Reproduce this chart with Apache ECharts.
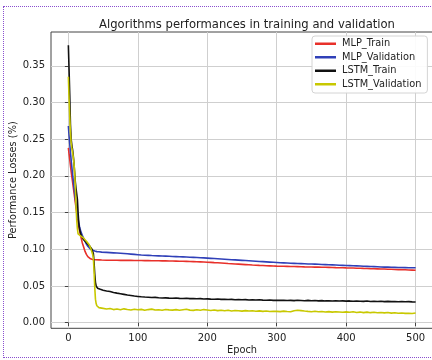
<!DOCTYPE html>
<html>
<head>
<meta charset="utf-8">
<script src="https://cdn.jsdelivr.net/npm/echarts@6/dist/echarts.min.js"></script>
<style>
  html, body { margin: 0; padding: 0; background: #fff; overflow: hidden; }
  #wrap { position: relative; width: 432px; height: 360px; overflow: hidden; }
  #chart { width: 432px; height: 360px; }
  /* dotted frame round the picture, open on the right */
  #frame {
    position: absolute; left: 3px; top: 6px; width: 600px; height: 350px;
    border: 1.5px dotted #8a4fcf; pointer-events: none;
  }
</style>
</head>
<body>
<div id="wrap">
  <div id="chart"></div>
  <div id="frame"></div>
</div>
<script>
// epochs sampled from the curves (dense during the early drop)
const epochs = [
  0, 1, 2, 3, 4, 5, 6, 7, 8, 9, 10, 11, 12, 13, 14, 15, 16, 18, 20, 22, 24, 26, 28, 30, 32, 34,
  35, 36, 37, 38, 39, 40, 41, 42, 44, 46, 48, 50,
  55, 60, 65, 70, 75, 80, 85, 90, 95, 100,
  105, 110, 115, 120, 125, 130, 135, 140, 145, 150,
  155, 160, 165, 170, 175, 180, 185, 190, 195, 200,
  205, 210, 215, 220, 225, 230, 235, 240, 245, 250,
  255, 260, 265, 270, 275, 280, 285, 290, 295, 300,
  305, 310, 315, 320, 325, 330, 335, 340, 345, 350,
  355, 360, 365, 370, 375, 380, 385, 390, 395, 400,
  405, 410, 415, 420, 425, 430, 435, 440, 445, 450,
  455, 460, 465, 470, 475, 480, 485, 490, 495, 500
]

const mlpTrain = [
  0.238, 0.230, 0.222, 0.214, 0.206, 0.199, 0.192, 0.185, 0.178, 0.171, 0.164, 0.157, 0.150, 0.143, 0.137, 0.131, 0.126,
  0.117, 0.109, 0.103, 0.097, 0.093, 0.090, 0.088, 0.087, 0.0863,
  0.0861, 0.0860, 0.0859, 0.0858, 0.0857, 0.0856, 0.0856, 0.0855, 0.0855, 0.0854, 0.0853, 0.0852,
  0.0851, 0.0851, 0.0850, 0.0850, 0.0849, 0.0849, 0.0848, 0.0848, 0.0847, 0.0846,
  0.0846, 0.0845, 0.0845, 0.0844, 0.0843, 0.0843, 0.0842, 0.0841, 0.0840, 0.0839,
  0.0838, 0.0837, 0.0836, 0.0835, 0.0833, 0.0832, 0.0830, 0.0828, 0.0826, 0.0823,
  0.0821, 0.0818, 0.0816, 0.0813, 0.0810, 0.0806, 0.0803, 0.0800, 0.0797, 0.0794,
  0.0791, 0.0788, 0.0785, 0.0783, 0.0780, 0.0778, 0.0776, 0.0774, 0.0772, 0.0770,
  0.0769, 0.0768, 0.0767, 0.0765, 0.0764, 0.0763, 0.0762, 0.0760, 0.0759, 0.0758,
  0.0757, 0.0756, 0.0755, 0.0754, 0.0753, 0.0752, 0.0750, 0.0749, 0.0748, 0.0746,
  0.0745, 0.0744, 0.0742, 0.0741, 0.0739, 0.0738, 0.0736, 0.0735, 0.0733, 0.0731,
  0.0730, 0.0728, 0.0727, 0.0725, 0.0723, 0.0722, 0.0720, 0.0718, 0.0716, 0.0714
]

const mlpValidation = [
  0.268, 0.255, 0.243, 0.232, 0.222, 0.212, 0.203, 0.194, 0.185, 0.177, 0.169, 0.161, 0.154, 0.147, 0.141, 0.136, 0.131,
  0.124, 0.119, 0.115, 0.111, 0.107, 0.104, 0.1015, 0.100, 0.099,
  0.0985, 0.098, 0.0977, 0.0975, 0.0972, 0.097, 0.0968, 0.0967, 0.0965, 0.0963, 0.0961, 0.096,
  0.0957, 0.0954, 0.0951, 0.0948, 0.0945, 0.0942, 0.0938, 0.0934, 0.0930, 0.0926,
  0.0922, 0.0919, 0.0917, 0.0914, 0.0912, 0.0910, 0.0908, 0.0906, 0.0904, 0.0902,
  0.0900, 0.0898, 0.0896, 0.0894, 0.0892, 0.0890, 0.0888, 0.0885, 0.0882, 0.0879,
  0.0876, 0.0873, 0.0870, 0.0867, 0.0864, 0.0861, 0.0858, 0.0855, 0.0852, 0.0849,
  0.0846, 0.0843, 0.0840, 0.0837, 0.0834, 0.0831, 0.0828, 0.0825, 0.0822, 0.0819,
  0.0816, 0.0814, 0.0812, 0.0810, 0.0808, 0.0806, 0.0804, 0.0802, 0.0800, 0.0799,
  0.0797, 0.0795, 0.0793, 0.0791, 0.0789, 0.0787, 0.0785, 0.0783, 0.0781, 0.0779,
  0.0777, 0.0775, 0.0773, 0.0771, 0.0769, 0.0767, 0.0765, 0.0763, 0.0761, 0.0759,
  0.0757, 0.0756, 0.0754, 0.0753, 0.0752, 0.0751, 0.0750, 0.0749, 0.0748, 0.0747
]

const lstmTrain = [
  0.378, 0.345, 0.310, 0.270, 0.250, 0.242, 0.236, 0.228, 0.218, 0.205, 0.192, 0.183, 0.181, 0.168, 0.150, 0.136, 0.128,
  0.120, 0.116, 0.113, 0.111, 0.109, 0.107, 0.105, 0.103, 0.100,
  0.098, 0.094, 0.082, 0.066, 0.055, 0.050, 0.048, 0.047, 0.046, 0.0455, 0.0448, 0.0442,
  0.0432, 0.0424, 0.0411, 0.0402, 0.0394, 0.0385, 0.0376, 0.0369, 0.0362, 0.0357,
  0.0352, 0.0349, 0.0347, 0.0342, 0.0344, 0.0339, 0.0336, 0.0338, 0.0334, 0.0332,
  0.0335, 0.0331, 0.0329, 0.0332, 0.0327, 0.0328, 0.0325, 0.0327, 0.0322, 0.0324,
  0.0321, 0.0319, 0.0323, 0.0317, 0.0318, 0.0315, 0.0317, 0.0313, 0.0316, 0.0312,
  0.0314, 0.0309, 0.0312, 0.0308, 0.0311, 0.0307, 0.0305, 0.0309, 0.0304, 0.0306,
  0.0303, 0.0306, 0.0301, 0.0304, 0.0300, 0.0305, 0.0302, 0.0299, 0.0303, 0.0298,
  0.0301, 0.0297, 0.0300, 0.0296, 0.0299, 0.0295, 0.0298, 0.0294, 0.0297, 0.0293,
  0.0296, 0.0292, 0.0295, 0.0291, 0.0290, 0.0294, 0.0289, 0.0292, 0.0288, 0.0291,
  0.0287, 0.0290, 0.0286, 0.0289, 0.0285, 0.0288, 0.0284, 0.0286, 0.0283, 0.0281
]

const lstmValidation = [
  0.335, 0.305, 0.280, 0.258, 0.245, 0.238, 0.232, 0.226, 0.218, 0.205, 0.185, 0.160, 0.140, 0.128, 0.121, 0.119, 0.121,
  0.118, 0.116, 0.115, 0.113, 0.111, 0.109, 0.106, 0.102, 0.096,
  0.093, 0.088, 0.070, 0.048, 0.032, 0.026, 0.023, 0.022, 0.0205, 0.0212, 0.0198, 0.0193,
  0.0186, 0.0192, 0.0178, 0.0185, 0.0175, 0.0188, 0.0179, 0.0172, 0.0183, 0.0176,
  0.0181, 0.0170, 0.0178, 0.0184, 0.0172, 0.0176, 0.0169, 0.0180, 0.0174, 0.0171,
  0.0177, 0.0168, 0.0175, 0.0182, 0.0171, 0.0167, 0.0176, 0.0170, 0.0178, 0.0172,
  0.0166, 0.0173, 0.0164, 0.0170, 0.0161, 0.0168, 0.0159, 0.0165, 0.0162, 0.0157,
  0.0164, 0.0158, 0.0162, 0.0155, 0.0160, 0.0154, 0.0158, 0.0151, 0.0156, 0.0153,
  0.0150, 0.0157, 0.0152, 0.0148, 0.0163, 0.0170, 0.0164, 0.0158, 0.0153, 0.0149,
  0.0155, 0.0148, 0.0152, 0.0145, 0.0150, 0.0143, 0.0149, 0.0146, 0.0141, 0.0147,
  0.0142, 0.0148, 0.0139, 0.0144, 0.0137, 0.0143, 0.0136, 0.0141, 0.0135, 0.0139,
  0.0133, 0.0138, 0.0130, 0.0135, 0.0128, 0.0132, 0.0126, 0.0129, 0.0124, 0.0131
]

const xTicks = [0, 100, 200, 300, 400, 500]
const yTicks = [0, 0.05, 0.10, 0.15, 0.20, 0.25, 0.30, 0.35]

const seriesDefs = [
  { name: 'MLP_Train', values: mlpTrain, color: '#e8302a' },
  { name: 'MLP_Validation', values: mlpValidation, color: '#3040b8' },
  { name: 'LSTM_Train', values: lstmTrain, color: '#111111' },
  { name: 'LSTM_Validation', values: lstmValidation, color: '#c8c800' }
]

const FONT = 'DejaVu Sans'
const chart = echarts.init(document.getElementById('chart'), null, { renderer: 'canvas' })

const option = {
  animation: false,
  backgroundColor: '#fff',
  title: {
    text: 'Algorithms performances in training and validation',
    left: 242,
    textAlign: 'center',
    top: 14,
    textStyle: { fontFamily: FONT, fontSize: 11.6, fontWeight: 'normal', color: '#222' }
  },
  legend: {
    orient: 'vertical',
    left: 312,
    top: 36,
    padding: [1, 6, 2, 3],
    itemWidth: 21,
    itemHeight: 2.5,
    itemGap: 0,
    icon: 'rect',
    backgroundColor: 'rgba(255,255,255,0.9)',
    borderColor: '#d4d4d4',
    borderWidth: 1,
    borderRadius: 3,
    textStyle: { fontFamily: FONT, fontSize: 9.8, color: '#222', lineHeight: 13.5, padding: [0, 0, 0, 1] },
    data: seriesDefs.map(s => s.name)
  },
  grid: {
    left: 51, top: 32, right: -1, bottom: 31.7,
    containLabel: false,
    outerBoundsMode: 'none',
    show: true, borderColor: '#444', borderWidth: 1, backgroundColor: 'transparent'
  },
  xAxis: {
    type: 'value',
    min: -25,
    max: 525,
    name: 'Epoch',
    nameLocation: 'middle',
    nameGap: 17,
    nameMoveOverlap: false,
    nameTextStyle: { fontFamily: FONT, fontSize: 9.8, color: '#222' },
    axisLine: { show: false },
    axisTick: { show: true, inside: false, length: 3.5, lineStyle: { color: '#444' }, customValues: xTicks },
    axisLabel: { fontFamily: FONT, fontSize: 10, color: '#222', margin: 5, customValues: xTicks, formatter: v => String(v) },
    splitLine: { show: true, lineStyle: { color: '#cfcfcf', width: 1 } }
  },
  yAxis: {
    type: 'value',
    min: -0.0077,
    max: 0.396,
    name: 'Performance Losses (%)',
    nameLocation: 'middle',
    nameGap: 33,
    nameRotate: 90,
    nameMoveOverlap: false,
    nameTextStyle: { fontFamily: FONT, fontSize: 9.8, color: '#222' },
    axisLine: { show: false },
    axisTick: { show: true, inside: false, length: 3.5, lineStyle: { color: '#444' }, customValues: yTicks },
    axisLabel: { fontFamily: FONT, fontSize: 10, color: '#222', margin: 6, customValues: yTicks, formatter: v => v.toFixed(2) },
    splitLine: { show: true, lineStyle: { color: '#cfcfcf', width: 1 } }
  },
  series: seriesDefs.map(s => ({
    name: s.name,
    type: 'line',
    data: epochs.map((e, i) => [e, s.values[i]]),
    showSymbol: false,
    symbol: 'none',
    lineStyle: { color: s.color, width: 1.6 },
    itemStyle: { color: s.color },
    clip: true
  }))
}

chart.setOption(option)
</script>
</body>
</html>
